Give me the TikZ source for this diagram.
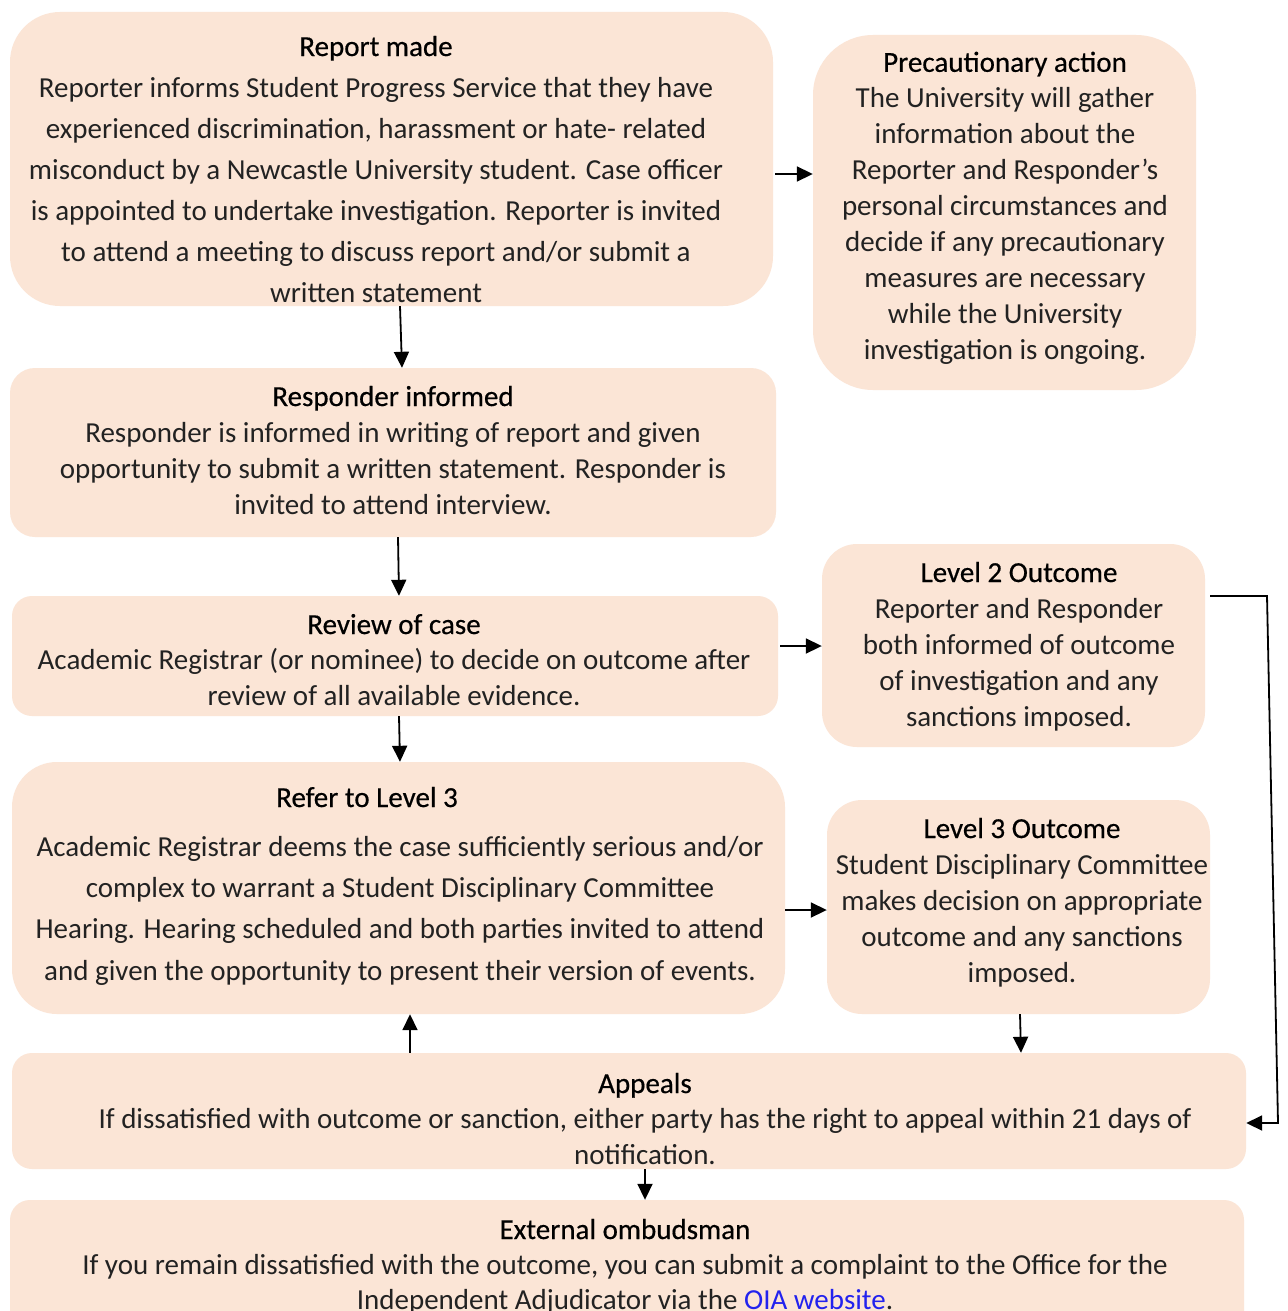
\documentclass[tikz,border=0pt]{standalone}
\usepackage{fontspec}
\setmainfont{Carlito}
\newfontfamily\ttlfont[FakeBold=0.5]{Carlito}
\usetikzlibrary{arrows.meta}
\definecolor{peach}{HTML}{FBE5D6}
\definecolor{txtc}{HTML}{222222}
\definecolor{linkc}{HTML}{2222EE}
\newcommand{\ttl}[1]{{\ttlfont\color{black}#1}}
\tikzset{
  box/.style={fill=peach, draw=none, inner sep=0pt, rectangle},
  txt/.style={align=center, inner sep=0pt, anchor=base, text=txtc},
  arr/.style={line width=1.8pt, -{Triangle[length=16pt,width=15pt]}},
}
\begin{document}
\begin{tikzpicture}[x=1pt,y=-1pt]
\clip (0,0) rectangle (1287,1311);
\fill[white] (0,0) rectangle (1287,1311);
% boxes
\node[box, minimum width=763pt, minimum height=294pt, rounded corners=50pt] (b1) at (391.5,159) {};
\node[box, minimum width=383pt, minimum height=355pt, rounded corners=60pt] (prec) at (1004.5,212.5) {};
\node[box, minimum width=766pt, minimum height=169pt, rounded corners=25pt] (resp) at (393,452.5) {};
\node[box, minimum width=766pt, minimum height=120pt, rounded corners=20pt] (rev) at (395,656) {};
\node[box, minimum width=383pt, minimum height=203pt, rounded corners=35pt] (ltwo) at (1013.5,645.5) {};
\node[box, minimum width=773pt, minimum height=252pt, rounded corners=45pt] (refer) at (398.5,888) {};
\node[box, minimum width=383pt, minimum height=214pt, rounded corners=35pt] (lthree) at (1018.5,907) {};
\node[box, minimum width=1234pt, minimum height=116pt, rounded corners=20pt] (app) at (629,1111) {};
\node[box, minimum width=1234pt, minimum height=140pt, rounded corners=20pt] (ext) at (627,1270) {};
% texts (anchor base = baseline of last line)
\node[txt, font=\fontsize{29}{41}\selectfont] (t1) at (376,302) {\ttl{Report made}\\
Reporter informs Student Progress Service that they have\\
experienced discrimination, harassment or hate- related\\
misconduct by a Newcastle University student. Case officer\\
is appointed to undertake investigation. Reporter is invited\\
to attend a meeting to discuss report and/or submit a\\
written statement};
\node[txt, font=\fontsize{29}{35.9}\selectfont] (t2) at (1005,359) {\ttl{Precautionary action}\\
The University will gather\\
information about the\\
Reporter and Responder’s\\
personal circumstances and\\
decide if any precautionary\\
measures are necessary\\
while the University\\
investigation is ongoing.};
\node[txt, font=\fontsize{29}{36}\selectfont] (t3) at (393,514) {\ttl{Responder informed}\\
Responder is informed in writing of report and given\\
opportunity to submit a written statement. Responder is\\
invited to attend interview.};
\node[txt, font=\fontsize{29}{35.5}\selectfont] (t4) at (394,705) {\ttl{Review of case}\\
Academic Registrar (or nominee) to decide on outcome after\\
review of all available evidence.};
\node[txt, font=\fontsize{29}{36}\selectfont] (t5) at (1019,726) {\ttl{Level 2 Outcome}\\
Reporter and Responder\\
both informed of outcome\\
of investigation and any\\
sanctions imposed.};
\node[txt, font=\fontsize{29}{41}\selectfont] (t6a) at (367,807) {\ttl{Refer to Level 3}};
\node[txt, font=\fontsize{29}{41.3}\selectfont] (t6) at (400,980) {Academic Registrar deems the case sufficiently serious and/or\\
complex to warrant a Student Disciplinary Committee\\
Hearing. Hearing scheduled and both parties invited to attend\\
and given the opportunity to present their version of events.};
\node[txt, font=\fontsize{29}{36}\selectfont] (t7) at (1022,982) {\ttl{Level 3 Outcome}\\
Student Disciplinary Committee\\
makes decision on appropriate\\
outcome and any sanctions\\
imposed.};
\node[txt, font=\fontsize{29}{35.5}\selectfont] (t8) at (645,1164) {\ttl{Appeals}\\
If dissatisfied with outcome or sanction, either party has the right to appeal within 21 days of\\
notification.};
\node[txt, font=\fontsize{29}{35}\selectfont] (t9) at (625,1309) {\ttl{External ombudsman}\\
If you remain dissatisfied with the outcome, you can submit a complaint to the Office for the\\
Independent Adjudicator via the \textcolor{linkc}{OIA website}.};
% connectors
\coordinate (k1) at (1267,596);
\coordinate (k2) at (1278,1123);
\draw[arr] ([xshift=2pt]b1.east |- 0,174) -- (prec.west |- 0,174);
\draw[arr] ([xshift=8.5pt]b1.south) -- ([xshift=9pt]resp.north);
\draw[arr] ([xshift=5pt]resp.south) -- ([xshift=4pt]rev.north);
\draw[arr] ([xshift=4pt]rev.south) -- ([xshift=1.5pt]refer.north);
\draw[arr] ([xshift=2pt]rev.east |- 0,646) -- (ltwo.west |- 0,646);
\draw[arr] (refer.east |- 0,910) -- (lthree.west |- 0,910);
\draw[arr] ([xshift=1.5pt]lthree.south) -- ([xshift=2.5pt]lthree.south |- app.north);
\draw[arr] (app.north -| 410,0) -- (refer.south -| 410,0);
\draw[arr] ([xshift=5pt]ltwo.east |- 0,596) -- (k1) -- (k2) -- (app.east |- k2);
\draw[arr] (app.south -| 645,0) -- (ext.north -| 645,0);
\end{tikzpicture}
\end{document}
